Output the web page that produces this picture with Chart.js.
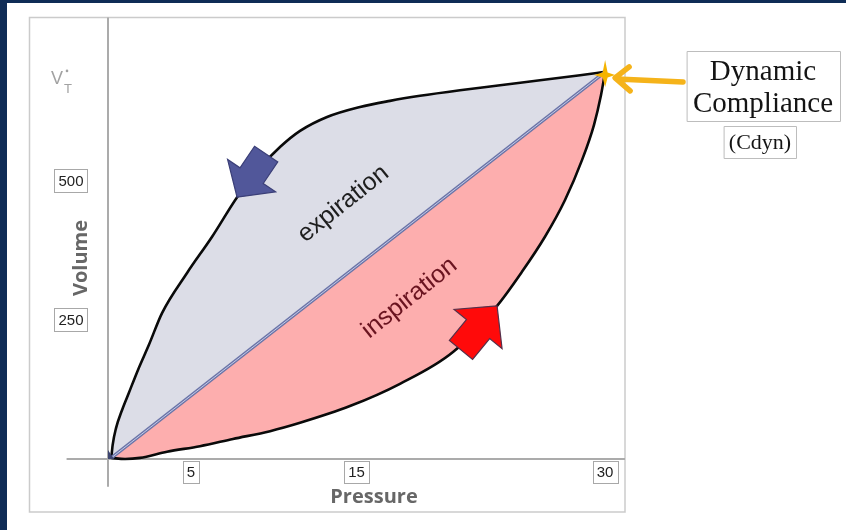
<!DOCTYPE html>
<html>
<head>
<meta charset="utf-8">
<script src="https://cdn.jsdelivr.net/npm/chart.js@4.4.1/dist/chart.umd.min.js"></script>
<style>
  html, body { margin: 0; padding: 0; background: #fff; }
  canvas { display: block; }
</style>
</head>
<body>
<canvas id="loop" width="846" height="530"></canvas>
<script>
// ========================================
// Pressure-volume loop (dynamic compliance)
// ========================================

// expiration limb (upper curve), listed from origin to end-inspiration
const expPressure = [0.2, 0.28, 0.48, 0.85, 1.25, 1.81, 2.47, 3.26, 4.77, 6.28, 7.79, 9.05, 10.38, 11.59, 13.22, 15.21, 17.02, 18.83, 21.24, 23.66, 26.07, 28.49, 30];
const expVolume   = [2, 25, 55, 88, 118, 160, 205, 262, 334, 399, 470, 519, 560, 589, 614, 632, 643, 652, 662, 671, 680, 689, 695];

// inspiration limb (lower curve)
const inspPressure = [0.2, 1.03, 1.93, 3.56, 5.55, 7.54, 9.78, 11.59, 14.6, 17.62, 20.82, 23.48, 24.98, 26.37, 27.58, 28.61, 29.33, 29.75, 30];
const inspVolume   = [2, 0, 2, 13, 23, 36, 50, 65, 95, 135, 192, 275, 336, 399, 465, 537, 600, 653, 695];

// compliance line: start and end of the breath
const cdynPressure = [0.2, 30];
const cdynVolume   = [2, 695];

const pressureTicks = [5, 15, 30];
const volumeTicks = [250, 500];
const tidalVolume = 695;

const toPoints = (xs, ys) => xs.map((x, i) => ({ x, y: ys[i] }));

const deg = a => a * Math.PI / 180;

// block arrow, tip at (0,0) pointing along +x
function blockArrow(ctx, x, y, angle, len, head, halfHead, halfShaft, fill, stroke) {
    ctx.save();
    ctx.translate(x, y);
    ctx.rotate(angle);
    ctx.beginPath();
    ctx.moveTo(0, 0);
    ctx.lineTo(-head, -halfHead);
    ctx.lineTo(-head, -halfShaft);
    ctx.lineTo(-len, -halfShaft);
    ctx.lineTo(-len, halfShaft);
    ctx.lineTo(-head, halfShaft);
    ctx.lineTo(-head, halfHead);
    ctx.closePath();
    ctx.fillStyle = fill;
    ctx.fill();
    ctx.lineWidth = 1.2;
    ctx.strokeStyle = stroke;
    ctx.stroke();
    ctx.restore();
}

function boxedText(ctx, text, cx, cy, font, h) {
    ctx.font = font;
    const w = ctx.measureText(text).width + 8;
    ctx.fillStyle = '#fff';
    ctx.fillRect(cx - w / 2, cy - h / 2, w, h);
    ctx.strokeStyle = '#a8a8a8';
    ctx.lineWidth = 1;
    ctx.strokeRect(Math.round(cx - w / 2) + 0.5, Math.round(cy - h / 2) + 0.5, Math.round(w), h);
    ctx.fillStyle = '#222';
    ctx.textAlign = 'center';
    ctx.textBaseline = 'middle';
    ctx.fillText(text, cx, cy + 1);
}

const slideDecor = {
    id: 'slideDecor',
    beforeDraw(chart) {
        const ctx = chart.ctx;
        const xs = chart.scales.x, ys = chart.scales.y;
        const area = chart.chartArea;
        ctx.save();
        // navy slide frame + white panel
        ctx.fillStyle = '#0f2c56';
        ctx.fillRect(0, 0, chart.width, chart.height);
        ctx.fillStyle = '#fff';
        ctx.fillRect(7, 3, chart.width - 7, chart.height - 3);
        // picture border
        ctx.strokeStyle = '#cbcbcb';
        ctx.lineWidth = 1.5;
        ctx.strokeRect(29.5, 17.5, 595.5, 494.5);
        // axes at zero
        ctx.strokeStyle = '#ababab';
        ctx.lineWidth = 2;
        const x0 = xs.getPixelForValue(0), y0 = ys.getPixelForValue(0);
        ctx.beginPath();
        ctx.moveTo(x0, 17.5);
        ctx.lineTo(x0, area.bottom);
        ctx.moveTo(area.left, y0);
        ctx.lineTo(area.right, y0);
        ctx.stroke();
        ctx.restore();
    },
    afterDatasetsDraw(chart) {
        const ctx = chart.ctx;
        const xs = chart.scales.x, ys = chart.scales.y;
        const px = v => xs.getPixelForValue(v);
        const py = v => ys.getPixelForValue(v);
        ctx.save();

        // dark corner at the start of the breath
        ctx.fillStyle = '#3c4470';
        ctx.beginPath();
        ctx.moveTo(px(0), py(0) - 9);
        ctx.lineTo(px(0) + 6, py(0));
        ctx.lineTo(px(0), py(0));
        ctx.closePath();
        ctx.fill();

        // direction arrows on the limbs
        blockArrow(ctx, px(7.79), py(470), deg(124), 52, 26, 29, 14, '#51579a', '#3b3f78');
        blockArrow(ctx, px(23.48), py(275), deg(-50.7), 57, 30, 31, 15, '#ff0a0a', '#55304a');

        // limb labels
        ctx.textAlign = 'center';
        ctx.textBaseline = 'middle';
        ctx.font = '25px "Liberation Sans", Arial, sans-serif';
        ctx.save();
        ctx.translate(px(14.2), py(458));
        ctx.rotate(deg(-38.5));
        ctx.fillStyle = '#1e1e1e';
        ctx.fillText('expiration', 0, 0);
        ctx.restore();
        ctx.save();
        ctx.translate(px(18.2), py(289));
        ctx.rotate(deg(-38.5));
        ctx.fillStyle = '#6a1420';
        ctx.fillText('inspiration', 0, 0);
        ctx.restore();

        // tick boxes
        const yAxisLine = py(0);
        pressureTicks.forEach(t => {
            boxedText(ctx, String(t), px(t), yAxisLine + 13, '15px "Liberation Sans", Arial, sans-serif', 22);
        });
        volumeTicks.forEach(t => {
            boxedText(ctx, String(t), 71, py(t), '15px "Liberation Sans", Arial, sans-serif', 23);
        });

        // V_T marker
        const vy = py(tidalVolume) + 5;
        ctx.fillStyle = '#a2a2a2';
        ctx.textAlign = 'left';
        ctx.textBaseline = 'alphabetic';
        ctx.font = '18px "Liberation Sans", Arial, sans-serif';
        ctx.fillText('V', 51, vy + 7);
        ctx.font = '13px "Liberation Sans", Arial, sans-serif';
        ctx.fillText('T', 64, vy + 16);
        ctx.beginPath();
        ctx.arc(67, vy - 6, 1.3, 0, Math.PI * 2);
        ctx.fill();

        // axis titles
        ctx.fillStyle = '#676767';
        ctx.font = 'bold 20px "Open Sans", "DejaVu Sans", sans-serif';
        ctx.textAlign = 'center';
        ctx.textBaseline = 'alphabetic';
        ctx.fillText('Pressure', 374, 503);
        ctx.save();
        ctx.translate(87, 258);
        ctx.rotate(-Math.PI / 2);
        ctx.fillText('Volume', 0, 0);
        ctx.restore();

        // end-inspiration star
        const sx = px(30), sy = py(tidalVolume) + 3;
        ctx.fillStyle = '#f5b300';
        ctx.beginPath();
        ctx.moveTo(sx, sy - 15);
        ctx.lineTo(sx + 2.5, sy - 2.5);
        ctx.lineTo(sx + 10, sy);
        ctx.lineTo(sx + 2.5, sy + 2.5);
        ctx.lineTo(sx, sy + 12);
        ctx.lineTo(sx - 2.5, sy + 2.5);
        ctx.lineTo(sx - 11, sy);
        ctx.lineTo(sx - 2.5, sy - 2.5);
        ctx.closePath();
        ctx.fill();

        // yellow pointer arrow
        ctx.strokeStyle = '#f5b31a';
        ctx.lineWidth = 5.5;
        ctx.lineCap = 'round';
        ctx.lineJoin = 'round';
        ctx.beginPath();
        ctx.moveTo(683, sy + 7);
        ctx.lineTo(sx + 12, sy + 4);
        ctx.moveTo(sx + 24, sy - 8);
        ctx.lineTo(sx + 10, sy + 3);
        ctx.lineTo(sx + 25, sy + 16);
        ctx.stroke();

        // callout boxes
        ctx.fillStyle = '#fff';
        ctx.strokeStyle = '#bdbdbd';
        ctx.lineWidth = 1;
        ctx.fillRect(687, 51, 153, 70);
        ctx.strokeRect(687.5, 51.5, 153, 70);
        ctx.fillRect(724, 126, 72, 32);
        ctx.strokeRect(724.5, 126.5, 72, 32);
        ctx.fillStyle = '#141414';
        ctx.textAlign = 'center';
        ctx.font = '29px "Liberation Serif", "Times New Roman", serif';
        ctx.fillText('Dynamic', 763, 80);
        ctx.fillText('Compliance', 763, 112);
        ctx.font = '22px "Liberation Serif", "Times New Roman", serif';
        ctx.fillText('(Cdyn)', 760, 149);

        ctx.restore();
    }
};

const ctx = document.getElementById('loop').getContext('2d');
new Chart(ctx, {
    type: 'scatter',
    data: {
        datasets: [
            {
                // light core of the compliance line
                data: toPoints(cdynPressure, cdynVolume),
                showLine: true,
                borderColor: '#c4cbe8',
                borderWidth: 1,
                pointRadius: 0,
                fill: false
            },
            {
                label: 'Cdyn',
                data: toPoints(cdynPressure, cdynVolume),
                showLine: true,
                borderColor: '#6c75a8',
                borderWidth: 3.5,
                pointRadius: 0,
                fill: false
            },
            {
                label: 'expiration',
                data: toPoints(expPressure, expVolume),
                showLine: true,
                cubicInterpolationMode: 'monotone',
                borderColor: '#0a0a0a',
                borderWidth: 2.6,
                backgroundColor: '#dcdde7',
                pointRadius: 0,
                fill: 1
            },
            {
                label: 'inspiration',
                data: toPoints(inspPressure, inspVolume),
                showLine: true,
                cubicInterpolationMode: 'monotone',
                borderColor: '#0a0a0a',
                borderWidth: 2.6,
                backgroundColor: '#fdaeae',
                pointRadius: 0,
                fill: 1
            }
        ]
    },
    options: {
        responsive: false,
        animation: false,
        layout: {
            padding: { left: 66.575, right: 221, top: 13.4, bottom: 43.15 }
        },
        scales: {
            x: { type: 'linear', min: -2.5, max: 31.2, display: false },
            y: { type: 'linear', min: -50, max: 800, display: false }
        },
        plugins: {
            legend: { display: false },
            tooltip: { enabled: false },
            filler: { propagate: false }
        }
    },
    plugins: [slideDecor]
});
</script>
</body>
</html>
